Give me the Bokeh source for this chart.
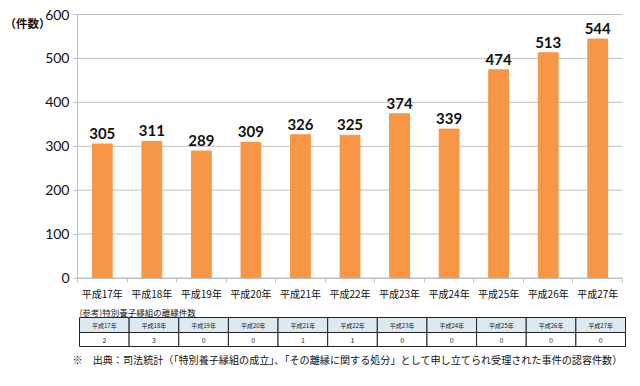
from bokeh.plotting import figure
from bokeh.models import (ColumnDataSource, Range1d, Label, LabelSet,
                          LinearAxis, FixedTicker)
from bokeh.embed import file_html
from bokeh.resources import INLINE
from bokeh.core.properties import value

years = ["平成17年", "平成18年", "平成19年", "平成20年", "平成21年", "平成22年",
         "平成23年", "平成24年", "平成25年", "平成26年", "平成27年"]
counts = [305, 311, 289, 309, 326, 325, 374, 339, 474, 513, 544]
dissolutions = [2, 3, 0, 0, 1, 1, 0, 0, 0, 0, 0]
y_ticks = [0, 100, 200, 300, 400, 500, 600]
y_label = "（件数）"
table_title = "(参考)特別養子縁組の離縁件数"
footnote = "※　出典：司法統計（「特別養子縁組の成立」、「その離縁に関する処分」として申し立てられ受理された事件の認容件数）"

JP = "Noto Sans CJK JP"
ORANGE = "#F79646"
GRID = "#BFBFBF"
W, H = 640, 386
CH_LEFT, CH_W = 77, 545        # chart area on the canvas (pixels)
Y600, Y0 = 14, 277.5
TB_LEFT, TB_W = 79, 546        # table on the canvas

n = len(years)
cw = CH_W / n
ppu = (Y0 - Y600) / 600.0
xs = [i + 0.5 for i in range(n)]
src = ColumnDataSource(dict(x=xs, y=counts, t=[str(c) for c in counts]))

p = figure(x_range=Range1d(-CH_LEFT / cw, (W - CH_LEFT) / cw),
           y_range=Range1d(-(H - Y0) / ppu, 600 + Y600 / ppu),
           width=W, height=H, output_backend="svg", toolbar_location=None,
           min_border_left=0, min_border_right=0, min_border_top=0, min_border_bottom=0)
p.outline_line_color = None
p.background_fill_color = "white"
colw = TB_W / n
p.extra_x_ranges = {"tx": Range1d(-TB_LEFT / colw, (W - TB_LEFT) / colw)}
p.extra_y_ranges = {"ty": Range1d(H, 0)}

# gridlines limited to chart width
p.grid.visible = False
p.segment(x0=[0] * len(y_ticks), x1=[n] * len(y_ticks), y0=y_ticks, y1=y_ticks,
          line_color=GRID, line_width=1)

p.vbar(x="x", top="y", width=0.4, source=src, color=ORANGE)
p.add_layout(LabelSet(x="x", y="y", text="t", source=src, text_align="center",
                      text_baseline="bottom", y_offset=5, text_font=value("Lato"),
                      text_font_style="bold", text_font_size="15px", text_color="#111111"))

p.yaxis.fixed_location = 0
p.yaxis.ticker = y_ticks
p.yaxis.bounds = (0, 600)
p.yaxis.axis_line_color = GRID
p.yaxis.major_tick_line_color = GRID
p.yaxis.major_tick_out = 4
p.yaxis.major_tick_in = 0
p.yaxis.minor_tick_line_color = None
p.yaxis.major_label_standoff = 4
p.yaxis.major_label_text_font = "Lato"
p.yaxis.major_label_text_font_size = "14px"
p.yaxis.major_label_text_color = "#111111"

p.xaxis.ticker = FixedTicker(ticks=xs)
p.xaxis.major_label_overrides = {x: y for x, y in zip(xs, years)}
p.xaxis.fixed_location = 0
p.xaxis.bounds = (0, n)
p.xaxis.axis_line_color = GRID
p.xaxis.major_tick_line_color = None
p.xaxis.minor_tick_line_color = None
p.xaxis.major_label_standoff = 2
p.xaxis.major_label_text_font = JP
p.xaxis.major_label_text_font_size = "10px"
p.xaxis.major_label_text_color = "#111111"

sep = LinearAxis(ticker=FixedTicker(ticks=list(range(n + 1))), bounds=(0, n),
                 fixed_location=0, axis_line_color=None, major_tick_line_color=GRID,
                 major_tick_out=4, major_tick_in=0, minor_tick_line_color=None,
                 major_label_text_color=None, major_label_text_font_size="1px")
p.add_layout(sep, "below")

p.add_layout(Label(x=(4 - TB_LEFT) / colw, y=22, x_range_name="tx", y_range_name="ty",
                   text=y_label, text_font=JP, text_font_size="11.5px", text_baseline="middle",
                   text_color="#111111", text_font_style="bold"))

p.rect(x=xs, y=[324.5] * n, width=1, height=15, x_range_name="tx", y_range_name="ty",
       fill_color="#DCE9F1", line_color="#222222", line_width=1)
p.rect(x=xs, y=[339] * n, width=1, height=14, x_range_name="tx", y_range_name="ty",
       fill_color="white", line_color="#222222", line_width=1)
p.text(x=xs, y=[324.5] * n, text=years, x_range_name="tx", y_range_name="ty",
       text_align="center", text_baseline="middle",
       text_font=value(JP), text_font_size="6px", text_color="#222222")
p.text(x=xs, y=[339] * n, text=[str(d) for d in dissolutions], x_range_name="tx", y_range_name="ty",
       text_align="center", text_baseline="middle", text_font=value(JP), text_font_size="7px",
       text_color="#222222")
p.add_layout(Label(x=0, y=311, x_range_name="tx", y_range_name="ty", text=table_title,
                   text_font=JP, text_font_size="8.5px", text_baseline="middle", text_color="#222222"))
p.add_layout(Label(x=(72 - TB_LEFT) / colw, y=359, x_range_name="tx", y_range_name="ty", text=footnote,
                   text_font=JP, text_font_size="10.1px", text_baseline="middle", text_color="#111111"))

open("out.html", "w").write(file_html(p, INLINE))
